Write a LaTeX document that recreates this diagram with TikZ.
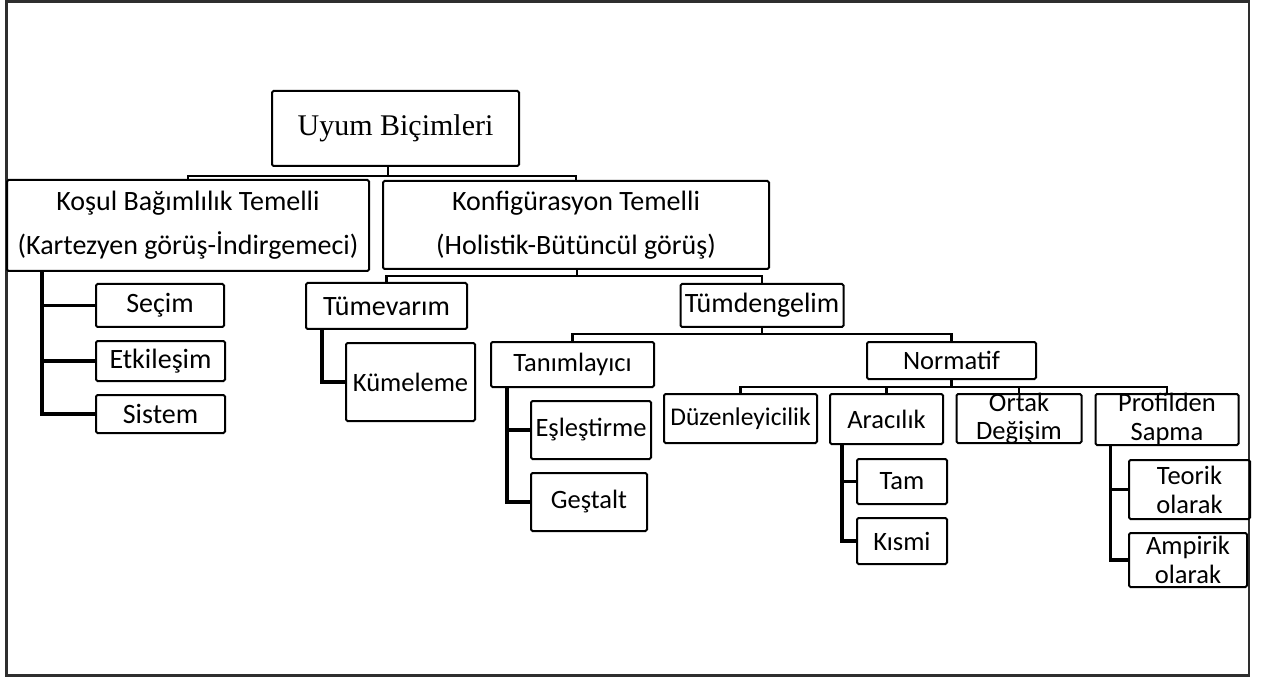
\documentclass[tikz,border=0pt]{standalone}
\usepackage{fontspec}
\setmainfont{Carlito}
\newfontfamily\serifface{Liberation Serif}
\begin{document}
\begin{tikzpicture}[x=1pt,y=-1pt,
  box/.style={draw, line width=2pt, rounded corners=1.5pt, inner sep=0pt,
              align=center, font=\fontsize{26.5}{29}\selectfont},
  big/.style={font=\fontsize{28}{44}\selectfont},
  tree/.style={line width=2.4pt},
  rail/.style={line width=3.2pt},
  frame/.style={draw=black!82, line width=2.2pt}]
\useasboundingbox (0,0) rectangle (1262,679);
\draw[frame] (6.5,1.5) rectangle (1249,675.5);

% root
\node[box, font=\serifface\fontsize{30}{36}\selectfont,
      minimum width=247, minimum height=75] (uyum) at (395.5,128.5) {Uyum Biçimleri};

% first level
\node[box, big, minimum width=362, minimum height=91] (kosul) at (188,225.5)
  {Koşul Bağımlılık Temelli\\(Kartezyen görüş-İndirgemeci)};
\node[box, big, minimum width=386, minimum height=88] (konf) at (576,225)
  {Konfigürasyon Temelli\\(Holistik-Bütüncül görüş)};

% contingency branch
\node[box, big, minimum width=128, minimum height=43] (secim) at (160,305.5) {Seçim};
\node[box, big, minimum width=129, minimum height=40] (etkilesim) at (160.5,361) {Etkileşim};
\node[box, big, minimum width=129, minimum height=38] (sistem) at (160.5,414) {Sistem};

% configuration branch
\node[box, big, minimum width=161, minimum height=46] (tumevarim) at (386.5,306) {Tümevarım};
\node[box, big, minimum width=163, minimum height=43] (tumdengelim) at (762,305.5) {Tümdengelim};
\node[box, minimum width=129, minimum height=78] (kumeleme) at (410.5,382) {Kümeleme};

\node[box, minimum width=163, minimum height=45] (tanim) at (572.5,364.5) {Tanımlayıcı};
\node[box, minimum width=169, minimum height=37] (normatif) at (951.5,360.5) {Normatif};

\node[box, minimum width=120, minimum height=58] (esles) at (591,430) {Eşleştirme};
\node[box, minimum width=116, minimum height=58] (gestalt) at (589,502) {Geştalt};

\node[box, font=\fontsize{25.5}{29}\selectfont, minimum width=153, minimum height=49] (duzen) at (740.5,418.5) {Düzenleyicilik};
\node[box, minimum width=113, minimum height=50] (aracilik) at (886.5,419) {Aracılık};
\node[box, minimum width=125, minimum height=49,
      label={[align=center, font=\fontsize{26.5}{28}\selectfont]center:Ortak\\Değişim}]
      (ortak) at (1019,418.5) {};
\node[box, minimum width=143, minimum height=51,
      label={[align=center, font=\fontsize{26.5}{29}\selectfont, yshift=1pt]center:Profilden\\Sapma}]
      (profil) at (1167,419.5) {};

\node[box, minimum width=90, minimum height=45] (tam) at (902,481.5) {Tam};
\node[box, minimum width=90, minimum height=46] (kismi) at (902,541) {Kısmi};
\node[box, minimum width=121, minimum height=59] (teorik) at (1189.5,489.5) {Teorik\\olarak};
\node[box, minimum width=118, minimum height=54] (ampirik) at (1188,560) {Ampirik\\olarak};

% tree connectors
\coordinate (b0) at (388,176);
\coordinate (b1) at (577,276);
\coordinate (b2) at (762,334);
\coordinate (b3) at (951.5,387);
\draw[tree] (uyum.south -| b0) -- (b0);
\draw[tree] (kosul.north) |- (b0) -| (konf.north);
\draw[tree] (konf.south -| b1) -- (b1);
\draw[tree] (tumevarim.north) |- (b1) -| (tumdengelim.north);
\draw[tree] (tumdengelim.south) -- (b2);
\draw[tree] (tanim.north) |- (b2) -| (normatif.north);
\draw[tree] (normatif.south) -- (b3);
\draw[tree] (duzen.north) |- (b3) -| (profil.north);
\draw[tree] (aracilik.north) |- (b3);
\draw[tree] (ortak.north) |- (b3);

% side rails
\draw[rail] ([xshift=36pt]kosul.south west) |- (secim.west);
\draw[rail] ([xshift=36pt]kosul.south west) |- (etkilesim.west);
\draw[rail] ([xshift=36pt]kosul.south west) |- (sistem.west);
\draw[rail] ([xshift=17pt]tumevarim.south west) |- (kumeleme.west);
\draw[rail] ([xshift=17pt]tanim.south west) |- (esles.west);
\draw[rail] ([xshift=17pt]tanim.south west) |- (gestalt.west);
\draw[rail] ([xshift=13pt]aracilik.south west) |- (tam.west);
\draw[rail] ([xshift=13pt]aracilik.south west) |- (kismi.west);
\draw[rail] ([xshift=16pt]profil.south west) |- (teorik.west);
\draw[rail] ([xshift=16pt]profil.south west) |- (ampirik.west);
\end{tikzpicture}
\end{document}
